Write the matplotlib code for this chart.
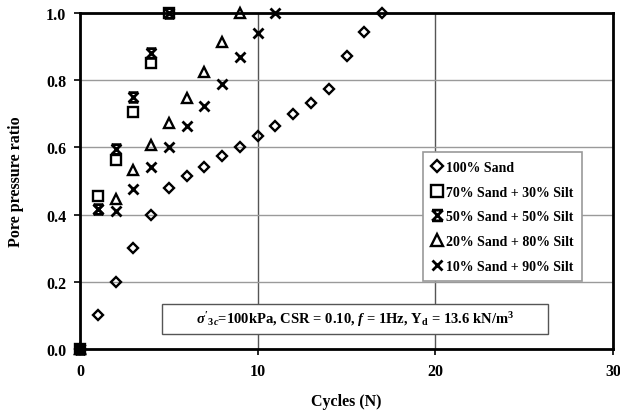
import matplotlib.pyplot as plt
from matplotlib.path import Path
from matplotlib.patches import Rectangle

plt.rcParams['font.family'] = ['Liberation Serif', 'DejaVu Serif']
plt.rcParams['font.weight'] = 'bold'
plt.rcParams['axes.labelweight'] = 'bold'
plt.rcParams['mathtext.fontset'] = 'custom'
plt.rcParams['mathtext.rm'] = 'Liberation Serif:bold'
plt.rcParams['mathtext.it'] = 'Liberation Serif:italic:bold'

# 循环次数与孔压比
sand100_n = [0, 1, 2, 3, 4, 5, 6, 7, 8, 9, 10, 11, 12, 13, 14, 15, 16, 17]
sand100_r = [0, 0.10, 0.20, 0.30, 0.40, 0.48, 0.515, 0.543, 0.573, 0.60, 0.633,
             0.663, 0.698, 0.733, 0.775, 0.873, 0.943, 1.0]

silt30_n = [0, 1, 2, 3, 4, 5]
silt30_r = [0, 0.455, 0.563, 0.705, 0.852, 1.0]

silt50_n = [0, 1, 2, 3, 4, 5]
silt50_r = [0, 0.415, 0.595, 0.75, 0.88, 1.0]

silt80_n = [0, 2, 3, 4, 5, 6, 7, 8, 9]
silt80_r = [0, 0.447, 0.533, 0.608, 0.673, 0.747, 0.824, 0.915, 1.0]

silt90_n = [0, 1, 2, 3, 4, 5, 6, 7, 8, 9, 10, 11]
silt90_r = [0, 0.415, 0.41, 0.477, 0.542, 0.602, 0.663, 0.724, 0.79, 0.87, 0.94, 1.0]

labels = ['100% Sand', '70% Sand + 30% Silt', '50% Sand + 50% Silt',
          '20% Sand + 80% Silt', '10% Sand + 90% Silt']

# 星形标记：叉号加上下横线
star = Path([(-1, -1), (1, 1), (-1, 1), (1, -1), (-1, 1), (1, 1), (-1, -1), (1, -1)],
            [Path.MOVETO, Path.LINETO, Path.MOVETO, Path.LINETO,
             Path.MOVETO, Path.LINETO, Path.MOVETO, Path.LINETO])

fig = plt.figure(figsize=(6.2, 4.14), dpi=100)
ax = fig.add_axes([0.129, 0.155, 0.860, 0.811])

common = dict(linestyle='none', color='black', mfc='none', clip_on=False, zorder=3)
ax.plot(sand100_n, sand100_r, marker='D', ms=5.5, mew=1.7, label=labels[0], **common)
ax.plot(silt30_n, silt30_r, marker='s', ms=7.5, mew=1.7, label=labels[1], **common)
ax.plot(silt50_n, silt50_r, marker=star, ms=7, mew=2.0, label=labels[2], **common)
ax.plot(silt80_n, silt80_r, marker='^', ms=7.5, mew=1.7, label=labels[3], **common)
ax.plot(silt90_n, silt90_r, marker='x', ms=7, mew=2.0, label=labels[4], **common)

ax.set_xlim(0, 30)
ax.set_ylim(0, 1.0)
ax.set_xticks([0, 10, 20, 30])
ax.set_yticks([0, 0.2, 0.4, 0.6, 0.8, 1.0])
ax.set_yticklabels(['0.0', '0.2', '0.4', '0.6', '0.8', '1.0'])
ax.tick_params(axis='both', labelsize=11.5, direction='out', length=4, width=1.2, pad=6)

ax.xaxis.grid(True, color='#555555', linewidth=1.0)
ax.yaxis.grid(True, color='#9a9a9a', linewidth=1.0)
ax.set_axisbelow(True)
for s in ax.spines.values():
    s.set_linewidth(2)

ax.set_xlabel('Cycles (N)', fontsize=11.5, labelpad=10)
ax.set_ylabel('Pore pressure ratio', fontsize=11.5, labelpad=16)

leg = ax.legend(loc='upper left', bbox_to_anchor=(0.643, 0.585), fontsize=10,
                frameon=True, fancybox=False, edgecolor='#999999', framealpha=1,
                handlelength=0.8, handletextpad=0.3, labelspacing=0.85,
                borderpad=0.6, borderaxespad=0, markerscale=1.1)
leg.get_frame().set_linewidth(1.2)

# 试验条件说明框
ax.add_patch(Rectangle((0.154, 0.045), 0.724, 0.089, transform=ax.transAxes,
                       fc='white', ec='#555555', lw=1, zorder=4))
ax.text(0.516, 0.089,
        r"$\sigma'_{3c}$=100kPa, CSR = 0.10, $f$ = 1Hz, Υ$_\mathrm{d}$ = 13.6 kN/m$^\mathrm{3}$",
        transform=ax.transAxes, ha='center', va='center', fontsize=10.5, zorder=5)

fig.savefig('out.png', dpi=100)
